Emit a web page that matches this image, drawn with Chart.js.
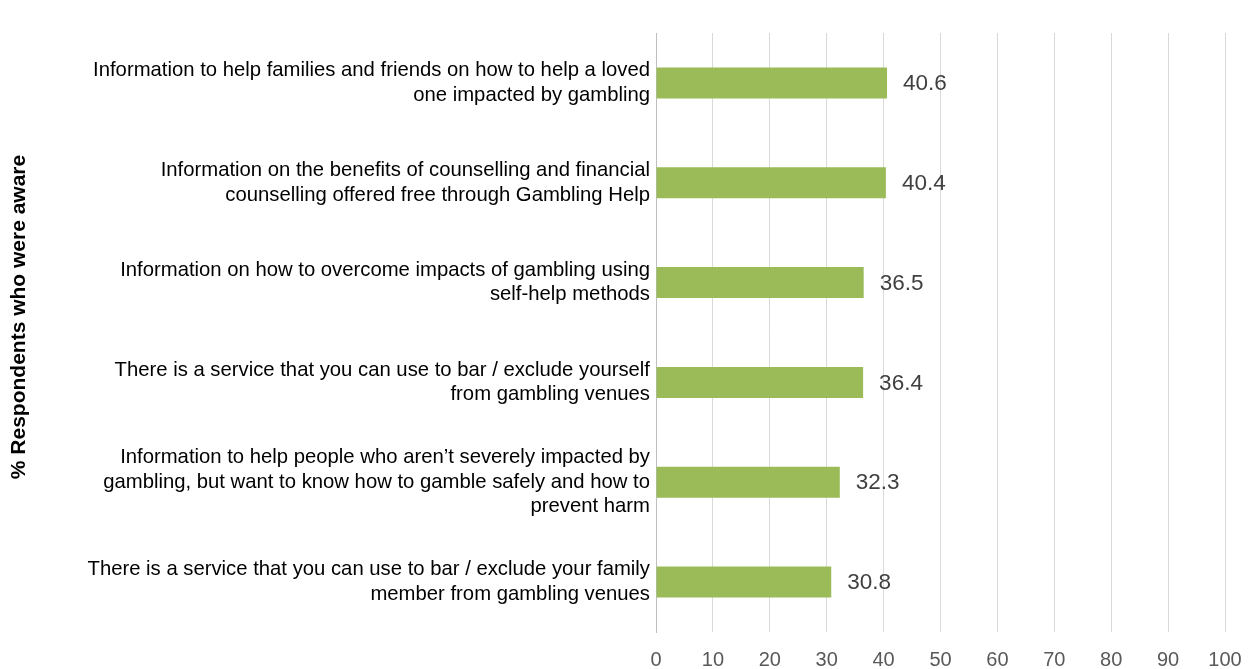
<!DOCTYPE html>
<html>
<head>
<meta charset="utf-8">
<script src="https://cdn.jsdelivr.net/npm/chart.js@4.4.1/dist/chart.umd.min.js"></script>
<style>
  html, body { margin: 0; padding: 0; background: #ffffff; }
  #wrap { width: 1251px; height: 669px; position: relative; }
</style>
</head>
<body>
<div id="wrap"><canvas id="chart"></canvas></div>
<script>
// Awareness of gambling-help information and services
const categories = [
  ["Information to help families and friends on how to help a loved", "one impacted by gambling"],
  ["Information on the benefits of counselling and financial", "counselling offered free through Gambling Help"],
  ["Information on how to overcome impacts of gambling using", "self-help methods"],
  ["There is a service that you can use to bar / exclude yourself", "from gambling venues"],
  ["Information to help people who aren\u2019t severely impacted by", "gambling, but want to know how to gamble safely and how to", "prevent harm"],
  ["There is a service that you can use to bar / exclude your family", "member from gambling venues"]
];
const awareValues = [40.6, 40.4, 36.5, 36.4, 32.3, 30.8];
const axisTitle = "% Respondents who were aware";
const xTickValues = [0, 10, 20, 30, 40, 50, 60, 70, 80, 90, 100];

const FONT = "'Liberation Sans', Arial, Helvetica, sans-serif";

// Writes each bar's value just past its end
const valueLabels = {
  id: 'valueLabels',
  afterDatasetsDraw(chart) {
    const ctx = chart.ctx;
    const meta = chart.getDatasetMeta(0);
    ctx.save();
    ctx.font = "22.5px " + FONT;
    ctx.fillStyle = "#404040";
    ctx.textAlign = "left";
    ctx.textBaseline = "middle";
    meta.data.forEach((bar, i) => {
      ctx.fillText(awareValues[i].toFixed(1), bar.x + 16, bar.y + 1);
    });
    ctx.restore();
  }
};

// Rotated axis title at the far left, set a little above the plot's middle
const sideTitle = {
  id: 'sideTitle',
  afterDraw(chart) {
    const ctx = chart.ctx;
    ctx.save();
    ctx.translate(19, 317);
    ctx.rotate(-Math.PI / 2);
    ctx.font = "bold 21px " + FONT;
    ctx.fillStyle = "#000000";
    ctx.textAlign = "center";
    ctx.textBaseline = "middle";
    ctx.fillText(axisTitle, 0, 0);
    ctx.restore();
  }
};

new Chart(document.getElementById('chart'), {
  type: 'bar',
  data: {
    labels: categories,
    datasets: [{
      data: awareValues,
      backgroundColor: '#9bbb59',
      borderWidth: 0,
      barPercentage: 0.31,
      categoryPercentage: 1.0
    }]
  },
  plugins: [valueLabels, sideTitle],
  options: {
    indexAxis: 'y',
    responsive: true,
    maintainAspectRatio: false,
    animation: false,
    layout: { padding: { top: 33, right: 26, bottom: 0, left: 0 } },
    plugins: {
      legend: { display: false },
      tooltip: { enabled: false }
    },
    scales: {
      x: {
        min: 0,
        max: 100,
        afterBuildTicks(scale) {
          scale.ticks = xTickValues.map(v => ({ value: v }));
        },
        afterFit(scale) {
          scale.height = 37;
          scale.paddingLeft = 0;
          scale.paddingRight = 0;
        },
        grid: { color: '#d9d9d9', lineWidth: 1, drawTicks: false },
        border: { display: false },
        ticks: {
          padding: 16,
          color: '#595959',
          font: { family: FONT, size: 20 },
          maxRotation: 0
        }
      },
      y: {
        afterFit(scale) { scale.width = 656; },
        grid: { display: false, drawTicks: false },
        border: { display: true, color: '#bfbfbf', width: 1 },
        ticks: {
          autoSkip: false,
          padding: 6,
          color: '#000000',
          font: { family: FONT, size: 20.3, lineHeight: '24.5px' }
        }
      }
    }
  }
});
</script>
</body>
</html>
